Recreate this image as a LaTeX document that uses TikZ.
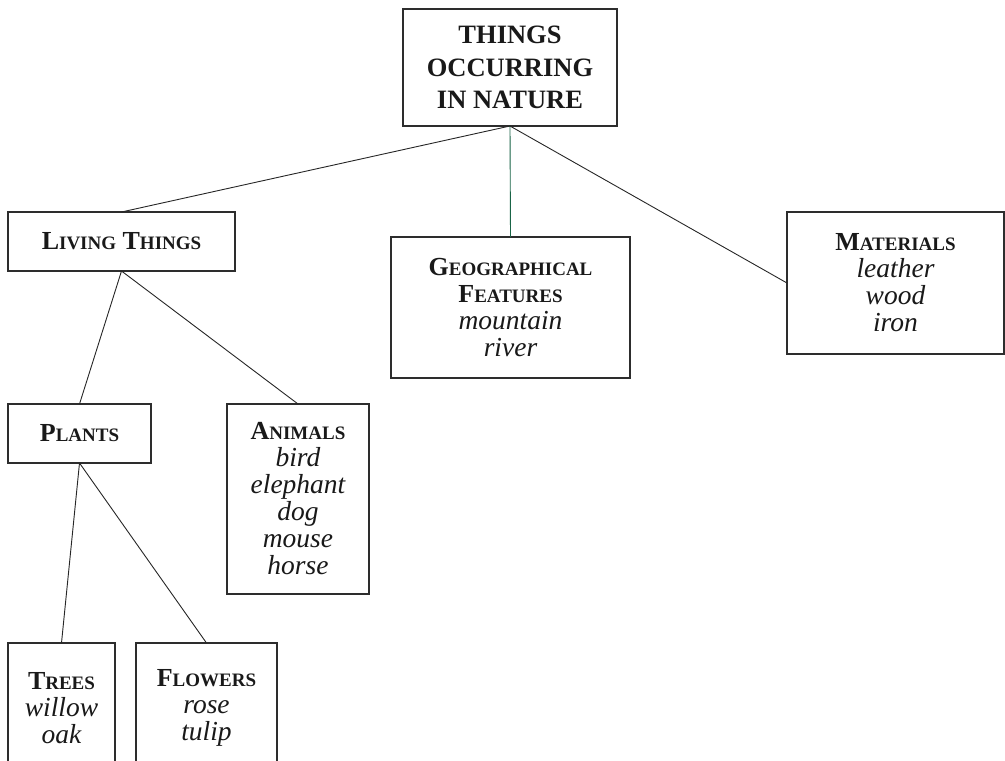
\documentclass[tikz,border=0pt]{standalone}
\usepackage{fontspec}
\setmainfont{Liberation Serif}
\definecolor{boxline}{RGB}{45,45,45}
\definecolor{greenlink}{RGB}{25,100,70}
\newcommand\capA[1]{{\fontsize{26}{27}\selectfont #1}}
\newcommand\capB[1]{{\fontsize{19}{27}\selectfont #1}}
\newcommand\hdr[2]{{\bfseries\capA{#1}\capB{#2}}}
\newcommand\itm[1]{{\fontsize{27.5}{27}\selectfont\itshape #1}}
\begin{document}
\begin{tikzpicture}[x=1pt,y=-1pt,
  box/.style={draw=boxline, line width=1.1pt, rectangle, inner sep=0pt, outer sep=0pt,
    align=center, text=black!90, font=\fontsize{26}{27}\selectfont},
  link/.style={draw=black!85, line width=0.9pt},
  glink/.style={draw=greenlink, line width=0.9pt}]
\useasboundingbox (0,0) rectangle (1005,761);
\clip (0,0) rectangle (1005,761);
\node[box, minimum width=214pt, minimum height=117pt,
  font=\bfseries\fontsize{26.5}{32.5}\selectfont] (root) at (510,67.5)
  {THINGS\\OCCURRING\\IN NATURE};
\node[box, minimum width=227pt, minimum height=59pt] (living) at (121.5,241.5)
  {\hdr{L}{IVING} \hdr{T}{HINGS}};
\node[box, minimum width=239pt, minimum height=141pt] (geo) at (510.5,307.5)
  {\hdr{G}{EOGRAPHICAL}\\\hdr{F}{EATURES}\\\itm{mountain}\\\itm{river}};
\node[box, minimum width=217pt, minimum height=142pt] (mat) at (895.5,283)
  {\hdr{M}{ATERIALS}\\\itm{leather}\\\itm{wood}\\\itm{iron}};
\node[box, minimum width=143pt, minimum height=59pt] (plants) at (79.5,433.5)
  {\hdr{P}{LANTS}};
\node[box, minimum width=142pt, minimum height=190pt] (animals) at (298,499)
  {\hdr{A}{NIMALS}\\\itm{bird}\\\itm{elephant}\\\itm{dog}\\\itm{mouse}\\\itm{horse}};
\node[box, minimum width=107pt, minimum height=130pt] (trees) at (61.5,708)
  {\hdr{T}{REES}\\\itm{willow}\\\itm{oak}};
\node[box, minimum width=141pt, minimum height=130pt] (flowers) at (206.5,708)
  {\hdr{F}{LOWERS}\\\itm{rose}\\\itm{tulip}};
\draw[link] (root.south) -- (living.north);
\draw[glink] (root.south) -- (geo.north);
\draw[link] (root.south) -- (mat.west);
\draw[link] (living.south) -- (plants.north);
\draw[link] (living.south) -- (animals.north);
\draw[link] (plants.south) -- (trees.north);
\draw[link] (plants.south) -- (flowers.north);
\end{tikzpicture}
\end{document}
